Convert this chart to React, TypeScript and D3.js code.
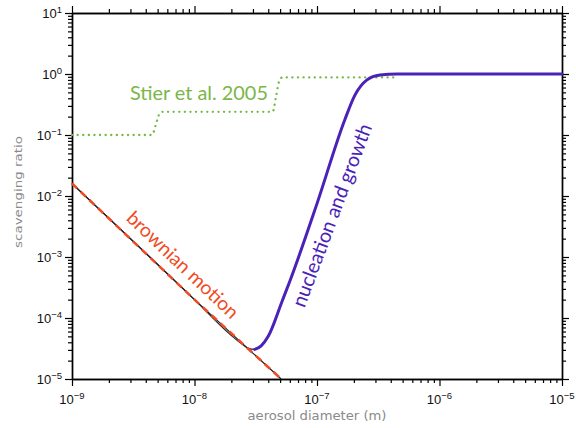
import React, { useRef, useEffect } from 'react';
import * as d3 from 'd3';

// diameter (m) -> scavenging ratio
const brownianLine: [number, number][] = [
  [1e-9, 0.016], [1e-8, 2.0e-4], [5.1e-8, 1.0e-5],
];
const totalLow: [number, number][] = [
  [1e-9, 0.016], [1e-8, 2.0e-4], [1.95e-8, 5.4e-5], [2.5e-8, 3.6e-5],
  [2.8e-8, 3.15e-5], [3.1e-8, 3.05e-5],
];
const nucleation: [number, number][] = [
  [3.1e-8, 3.05e-5], [3.5e-8, 3.5e-5], [4.0e-8, 5.0e-5], [5.2e-8, 1.9e-4],
  [6.0e-8, 4.0e-4], [1.0e-7, 7.5e-3], [1.69e-7, 0.18], [2.04e-7, 0.45],
  [2.56e-7, 0.8], [3.27e-7, 0.96], [4.5e-7, 1.0], [1e-5, 1.0],
];
const stier: [number, number][] = [
  [1e-9, 0.1], [4.5e-9, 0.1], [4.8e-9, 0.14], [5.1e-9, 0.21], [5.4e-9, 0.24],
  [4.35e-8, 0.24], [4.6e-8, 0.4], [4.9e-8, 0.75], [5.2e-8, 0.88], [4.6e-7, 0.88],
];

const xDecades = [-9, -8, -7, -6, -5];
const yDecades = [-5, -4, -3, -2, -1, 0, 1];

export default function App() {
  const svgRef = useRef<SVGSVGElement>(null);

  useEffect(() => {
    const W = 576, H = 428;
    const margin = { top: 13, right: 14, bottom: 49, left: 72 };
    const width = W - margin.left - margin.right;
    const height = H - margin.top - margin.bottom;

    const svg = d3.select(svgRef.current)
      .attr('width', W).attr('height', H);
    svg.selectAll('*').remove();
    const g = svg.append('g').attr('transform', `translate(${margin.left},${margin.top})`);

    const x = d3.scaleLog().domain([1e-9, 1e-5]).range([0, width]);
    const y = d3.scaleLog().domain([1e-5, 1e1]).range([height, 0]);

    const xMajor = xDecades.map(e => Math.pow(10, e));
    const yMajor = yDecades.map(e => Math.pow(10, e));
    const isMajor = (v: number) => Math.abs(Math.log10(v) - Math.round(Math.log10(v))) < 1e-6;
    const xMinor = x.ticks().filter(v => !isMajor(v));
    const yMinor = y.ticks().filter(v => !isMajor(v));

    const styleAxis = (sel: any) => {
      sel.selectAll('path').attr('stroke', '#000').attr('stroke-width', 1.4);
      sel.selectAll('line').attr('stroke', '#000').attr('stroke-width', 1.2);
    };
    const addAxis = (axisFn: any, scale: any, major: number[], minor: number[], transform: string) => {
      g.append('g').attr('transform', transform)
        .call(axisFn(scale).tickValues(minor).tickSize(4).tickSizeOuter(0).tickFormat(() => ''))
        .call(styleAxis);
      g.append('g').attr('transform', transform)
        .call(axisFn(scale).tickValues(major).tickSize(7).tickSizeOuter(0).tickFormat(() => ''))
        .call(styleAxis);
    };
    addAxis(d3.axisBottom, x, xMajor, xMinor, `translate(0,${height})`);
    addAxis(d3.axisTop, x, xMajor, xMinor, 'translate(0,0)');
    addAxis(d3.axisLeft, y, yMajor, yMinor, 'translate(0,0)');
    addAxis(d3.axisRight, y, yMajor, yMinor, `translate(${width},0)`);

    // tick labels 10^n
    const labelFont = '"Liberation Sans", Arial, sans-serif';
    xDecades.forEach(e => {
      const t = g.append('text')
        .attr('x', x(Math.pow(10, e)))
        .attr('y', height + 25)
        .attr('text-anchor', 'middle')
        .style('font-family', labelFont).style('font-size', '13px').attr('fill', '#111');
      t.append('tspan').text('10');
      t.append('tspan').attr('dy', -5.5).style('font-size', '9.5px').text(`${e < 0 ? '−' : ''}${Math.abs(e)}`);
    });
    yDecades.forEach(e => {
      const t = g.append('text')
        .attr('x', -10)
        .attr('y', y(Math.pow(10, e)) + 5)
        .attr('text-anchor', 'end')
        .style('font-family', labelFont).style('font-size', '13px').attr('fill', '#111');
      t.append('tspan').text('10');
      t.append('tspan').attr('dy', -5.5).style('font-size', '9.5px').text(`${e < 0 ? '−' : ''}${Math.abs(e)}`);
    });

    // axis titles
    g.append('text')
      .attr('x', width / 2).attr('y', height + 41)
      .attr('text-anchor', 'middle')
      .attr('textLength', 139).attr('lengthAdjust', 'spacingAndGlyphs')
      .style('font-family', '"DejaVu Sans", sans-serif').style('font-size', '11.5px')
      .attr('fill', '#8a8a8a')
      .text('aerosol diameter (m)');
    g.append('text')
      .attr('transform', `translate(${-margin.left + 22},${height / 2 - 4}) rotate(-90)`)
      .attr('text-anchor', 'middle')
      .attr('textLength', 112).attr('lengthAdjust', 'spacingAndGlyphs')
      .style('font-family', '"DejaVu Sans", sans-serif').style('font-size', '11px')
      .attr('fill', '#8a8a8a')
      .text('scavenging ratio');

    const line = d3.line<[number, number]>()
      .x(d => x(d[0]))
      .y(d => y(d[1]))
      .curve(d3.curveMonotoneX);
    const straight = d3.line<[number, number]>().x(d => x(d[0])).y(d => y(d[1]));

    const plot = g.append('g');

    // Stier et al. dotted steps
    plot.append('path')
      .datum(stier)
      .attr('fill', 'none')
      .attr('stroke', '#74b944')
      .attr('stroke-width', 2.3)
      .attr('stroke-linecap', 'round')
      .attr('stroke-dasharray', '0.1 5.5')
      .attr('d', line);

    // black brownian + total
    plot.append('path').datum(brownianLine)
      .attr('fill', 'none').attr('stroke', '#222').attr('stroke-width', 1.2)
      .attr('d', straight);
    plot.append('path').datum(totalLow)
      .attr('fill', 'none').attr('stroke', '#222').attr('stroke-width', 1.2)
      .attr('d', line);

    // red dashed brownian
    plot.append('path').datum(brownianLine)
      .attr('fill', 'none').attr('stroke', '#f24a24').attr('stroke-width', 2.6)
      .attr('stroke-dasharray', '7 5')
      .attr('d', straight);

    // purple nucleation
    plot.append('path').datum(nucleation)
      .attr('fill', 'none').attr('stroke', '#4a22b8').attr('stroke-width', 3)
      .attr('stroke-linejoin', 'round').attr('stroke-linecap', 'round')
      .attr('d', line);

    // labels
    const annoFont = 'Lato, "Open Sans", sans-serif';
    g.append('text')
      .attr('x', x(2.97e-9)).attr('y', y(0.375))
      .attr('textLength', 138).attr('lengthAdjust', 'spacingAndGlyphs')
      .style('font-family', annoFont).style('font-size', '19px')
      .attr('fill', '#7ab648')
      .text('Stier et al. 2005');

    g.append('text')
      .attr('transform', `translate(${x(8.1e-9)},${y(7.6e-4)}) rotate(43.5)`)
      .attr('text-anchor', 'middle').attr('dominant-baseline', 'central')
      .attr('textLength', 146).attr('lengthAdjust', 'spacingAndGlyphs')
      .style('font-family', annoFont).style('font-size', '19px')
      .attr('fill', '#f24a24')
      .text('brownian motion');

    g.append('text')
      .attr('transform', `translate(${x(1.3e-7)},${y(4.9e-3)}) rotate(-69.5)`)
      .attr('text-anchor', 'middle').attr('dominant-baseline', 'central')
      .attr('textLength', 194).attr('lengthAdjust', 'spacingAndGlyphs')
      .style('font-family', annoFont).style('font-size', '20px')
      .attr('fill', '#4a22b8')
      .text('nucleation and growth');

    return () => {
      d3.select(svgRef.current).selectAll('*').remove();
    };
  }, []);

  return (
    <svg ref={svgRef} style={{ position: 'absolute', left: 0, top: 0, background: '#fff' }}></svg>
  );
}
